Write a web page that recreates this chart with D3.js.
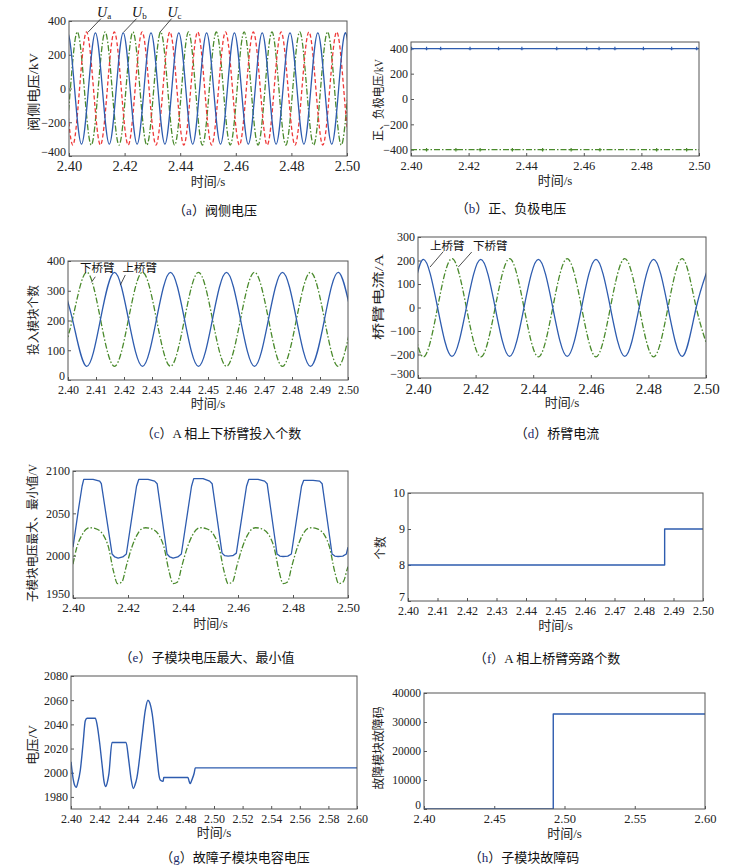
<!DOCTYPE html>
<html><head><meta charset="utf-8">
<script src="https://cdn.jsdelivr.net/npm/d3@7/dist/d3.min.js"></script>
<style>body{margin:0;background:#fff}</style>
</head><body>
<svg id="c" width="753" height="865"></svg>
<script>
// ---------------- DATA ----------------
// (a) valve-side voltages, kV  [time s, value]
const uaData = [[2.3963,335],[2.3988,0],[2.4013,-335],[2.4038,0],[2.4063,335],[2.4088,0],[2.4113,-335],[2.4138,0],[2.4163,335],[2.4188,0],[2.4213,-335],[2.4238,0],[2.4263,335],[2.4288,0],[2.4313,-335],[2.4338,0],[2.4363,335],[2.4388,0],[2.4413,-335],[2.4438,0],[2.4463,335],[2.4488,0],[2.4513,-335],[2.4538,0],[2.4563,335],[2.4588,0],[2.4613,-335],[2.4638,0],[2.4663,335],[2.4688,0],[2.4713,-335],[2.4738,0],[2.4763,335],[2.4788,0],[2.4813,-335],[2.4838,0],[2.4863,335],[2.4888,0],[2.4913,-335],[2.4938,0],[2.4963,335],[2.4988,0],[2.5013,-335],[2.5038,0]];
const ubData = [[2.3970,0],[2.3995,330],[2.4020,0],[2.4045,-330],[2.4070,0],[2.4095,330],[2.4120,0],[2.4145,-330],[2.4170,0],[2.4195,330],[2.4220,0],[2.4245,-330],[2.4270,0],[2.4295,330],[2.4320,0],[2.4345,-330],[2.4370,0],[2.4395,330],[2.4420,0],[2.4445,-330],[2.4470,0],[2.4495,330],[2.4520,0],[2.4545,-330],[2.4570,0],[2.4595,330],[2.4620,0],[2.4645,-330],[2.4670,0],[2.4695,330],[2.4720,0],[2.4745,-330],[2.4770,0],[2.4795,330],[2.4820,0],[2.4845,-330],[2.4870,0],[2.4895,330],[2.4920,0],[2.4945,-330],[2.4970,0],[2.4995,330],[2.5020,0],[2.5045,-330]];
const ucData = [[2.3955,0],[2.3980,-335],[2.4005,0],[2.4030,335],[2.4055,0],[2.4080,-335],[2.4105,0],[2.4130,335],[2.4155,0],[2.4180,-335],[2.4205,0],[2.4230,335],[2.4255,0],[2.4280,-335],[2.4305,0],[2.4330,335],[2.4355,0],[2.4380,-335],[2.4405,0],[2.4430,335],[2.4455,0],[2.4480,-335],[2.4505,0],[2.4530,335],[2.4555,0],[2.4580,-335],[2.4605,0],[2.4630,335],[2.4655,0],[2.4680,-335],[2.4705,0],[2.4730,335],[2.4755,0],[2.4780,-335],[2.4805,0],[2.4830,335],[2.4855,0],[2.4880,-335],[2.4905,0],[2.4930,335],[2.4955,0],[2.4980,-335],[2.5005,0],[2.5030,335]];
const uLabels = ["a","b","c"];

// (b) positive / negative pole voltage, kV
const posPole = [[2.40,398],[2.50,398]];
const negPole = [[2.40,-400],[2.50,-400]];
const posGlitchT = [2.4002,2.4054,2.4103,2.4205,2.4304,2.4385,2.4506,2.4610,2.4653,2.4708,2.4807,2.4905,2.4992];
const negGlitchT = [2.4054,2.4156,2.4240,2.4352,2.4457,2.4556,2.4656,2.4853,2.4957];

// (c) inserted modules, upper / lower arm
const upperCount = [[2.3966,362],[2.4016,204],[2.4066,46],[2.4116,204],[2.4166,362],[2.4216,204],[2.4266,46],[2.4316,204],[2.4366,362],[2.4416,204],[2.4466,46],[2.4516,204],[2.4566,362],[2.4616,204],[2.4666,46],[2.4716,204],[2.4766,362],[2.4816,204],[2.4866,46],[2.4916,204],[2.4966,362],[2.5016,204],[2.5066,46]];
const lowerCount = [[2.3966,46],[2.4016,204],[2.4066,362],[2.4116,204],[2.4166,46],[2.4216,204],[2.4266,362],[2.4316,204],[2.4366,46],[2.4416,204],[2.4466,362],[2.4516,204],[2.4566,46],[2.4616,204],[2.4666,362],[2.4716,204],[2.4766,46],[2.4816,204],[2.4866,362],[2.4916,204],[2.4966,46],[2.5016,204],[2.5066,362]];

// (d) arm currents, A
const upperCurrent = [[2.3918,-208],[2.3972,0],[2.4018,205],[2.4068,0],[2.4118,-208],[2.4168,0],[2.4218,205],[2.4268,0],[2.4318,-208],[2.4368,0],[2.4418,205],[2.4468,0],[2.4518,-208],[2.4568,0],[2.4618,205],[2.4668,0],[2.4718,-208],[2.4768,0],[2.4818,205],[2.4868,0],[2.4918,-208],[2.4966,0],[2.5018,205]];
const lowerCurrent = [[2.3918,208],[2.3970,0],[2.4018,-210],[2.4068,0],[2.4118,208],[2.4168,0],[2.4218,-210],[2.4268,0],[2.4318,208],[2.4368,0],[2.4418,-210],[2.4468,0],[2.4518,208],[2.4568,0],[2.4618,-210],[2.4668,0],[2.4718,208],[2.4768,0],[2.4818,-210],[2.4868,0],[2.4918,208],[2.4966,0],[2.5018,-210]];

// (e) sub-module voltage max / min, V
const smMax = [[2.4000,2010],[2.4020,2055],[2.4033,2082],[2.4039,2090],
 [2.4073,2090],[2.4097,2088],[2.4103,2085],[2.4142,2002],[2.4152,1998.5],[2.4164,1997],[2.4181,1998.5],[2.4194,2002],[2.4231,2082],[2.4239,2090],
 [2.4273,2090],[2.4297,2088],[2.4306,2085],[2.4342,2002],[2.4352,1998.5],[2.4364,1997],[2.4381,1998.5],[2.4394,2002],[2.4431,2082],[2.4439,2091],
 [2.4473,2091],[2.4497,2088],[2.4506,2085],[2.4542,2003],[2.4552,2000],[2.4564,1999.5],[2.4581,2000],[2.4594,2003],[2.4631,2082],[2.4639,2090],
 [2.4673,2090],[2.4697,2088],[2.4706,2085],[2.4742,2002],[2.4752,1999.5],[2.4764,1999],[2.4781,1999.5],[2.4794,2002],[2.4831,2082],[2.4839,2089],
 [2.4873,2089],[2.4897,2088],[2.4906,2085],[2.4942,2002],[2.4952,1999.5],[2.4964,1999],[2.4981,1999.5],[2.4994,2002],[2.5000,2010]];
const smMin = [[2.4000,1990],[2.4014,2010],[2.4032,2024],[2.4051,2032],[2.4062,2033],[2.4082,2032],[2.4111,2024],[2.4129,2010],[2.4147,1982],[2.4162,1967],[2.4178,1969],[2.4194,1988],
 [2.4214,2010],[2.4232,2024],[2.4251,2032],[2.4264,2033],[2.4284,2032],[2.4313,2024],[2.4331,2010],[2.4349,1982],[2.4364,1967],[2.4380,1969],[2.4396,1988],
 [2.4416,2010],[2.4434,2024],[2.4453,2032],[2.4464,2033],[2.4484,2032],[2.4513,2024],[2.4531,2010],[2.4549,1982],[2.4564,1967],[2.4580,1969],[2.4596,1988],
 [2.4616,2010],[2.4634,2024],[2.4653,2032],[2.4664,2033],[2.4684,2032],[2.4713,2024],[2.4731,2010],[2.4749,1982],[2.4764,1967],[2.4780,1969],[2.4796,1988],
 [2.4816,2010],[2.4834,2024],[2.4853,2032],[2.4866,2033],[2.4886,2032],[2.4915,2024],[2.4933,2010],[2.4951,1982],[2.4966,1967],[2.4982,1969],[2.4998,1985],[2.5000,1987]];

// (f) bypassed modules, upper arm phase A
const bypassCount = [[2.40,8],[2.487,9],[2.50,9]];

// (g) faulty sub-module capacitor voltage, V
const faultCapV = [[2.4000,2009],[2.4015,1995],[2.4028,1989],[2.4037,1988],[2.4048,1992],[2.4065,2002],[2.4085,2025],[2.4100,2043],[2.4112,2045],[2.4170,2045],[2.4182,2040],[2.4200,2025],[2.4217,2007],[2.4232,1992],[2.4243,1988.5],[2.4254,1992],[2.4265,1999],[2.4287,2025],[2.4385,2025],[2.4403,2011],[2.4420,1995],[2.4436,1987],[2.4448,1990],[2.4461,1996],[2.4496,2029],[2.4520,2052],[2.4538,2060],[2.4550,2058],[2.4566,2050],[2.4601,2013],[2.4615,1998],[2.4624,1994],[2.4641,1993],[2.4645,1993],[2.4648,1996],[2.4818,1996],[2.4826,1993],[2.4834,1991],[2.4845,1994],[2.4862,2000],[2.4869,2004],[2.6000,2004]];

// (h) fault code
const faultCode = [[2.40,0],[2.492,32768],[2.60,32768]];

// tick values
const xTicks02 = [2.40,2.42,2.44,2.46,2.48,2.50];
const xTicks01 = [2.40,2.41,2.42,2.43,2.44,2.45,2.46,2.47,2.48,2.49,2.50];
const xTicksG = [2.40,2.42,2.44,2.46,2.48,2.50,2.52,2.54,2.56,2.58,2.60];
const xTicksH = [2.40,2.45,2.50,2.55,2.60];
const yTicksA = [-400,-200,0,200,400];
const yTicksC = [0,100,200,300,400];
const yTicksD = [-300,-200,-100,0,100,200,300];
const yTicksE = [1950,2000,2050,2100];
const yTicksF = [7,8,9,10];
const yTicksG = [1980,2000,2020,2040,2060,2080];
const yTicksH = [0,10000,20000,30000,40000];

// texts
const xTitle = "时间/s";
const yTitles = {a:"阀侧电压/kV", b:"正、负极电压/kV", c:"投入模块个数", d:"桥臂电流/A", e:"子模块电压最大、最小值/V", f:"个数", g:"电压/V", h:"故障模块故障码"};
const captions = {a:["a","阀侧电压"], b:["b","正、负极电压"], c:["c","A 相上下桥臂投入个数"], d:["d","桥臂电流"], e:["e","子模块电压最大、最小值"], f:["f","A 相上桥臂旁路个数"], g:["g","故障子模块电容电压"], h:["h","子模块故障码"]};
const armNames = ["上桥臂","下桥臂"];

// ---------------- DRAW ----------------
const BLUE = "#2e5caf", GREEN = "#4a8a2c", RED = "#ee3838";
const DASH_RED = "4,2.5", DASH_GREEN = "6,2,1.5,2";
const SERIF = '"Liberation Serif","Times New Roman","Noto Sans CJK SC",serif';
const CJK = '"Liberation Serif","Noto Sans CJK SC",serif';
const svg = d3.select("#c");
const defs = svg.append("defs");

function addPanel(p){
  const x = d3.scaleLinear().domain(p.xd).range([p.x0,p.x1]);
  const y = d3.scaleLinear().domain(p.yd).range([p.y1,p.y0]);
  const g = svg.append("g");
  defs.append("clipPath").attr("id","clip-"+p.id).append("rect")
    .attr("x",p.x0).attr("y",p.y0).attr("width",p.x1-p.x0).attr("height",p.y1-p.y0);
  const xa = g.append("g").attr("transform",`translate(0,${p.y1})`)
    .call(d3.axisBottom(x).tickValues(p.xt).tickFormat(d3.format(".2f")).tickSizeInner(-3).tickSizeOuter(0).tickPadding(p.xpad||5));
  xa.attr("font-family",SERIF).attr("font-size",p.xfs||12);
  xa.select(".domain").remove();
  xa.selectAll("line").attr("stroke","#555");
  xa.selectAll("text").attr("fill","#222");
  const ya = g.append("g").attr("transform",`translate(${p.x0},0)`)
    .call(d3.axisLeft(y).tickValues(p.yt).tickFormat(d3.format("d")).tickSizeInner(-3).tickSizeOuter(0).tickPadding(3));
  ya.attr("font-family",SERIF).attr("font-size",p.yfs||12);
  ya.select(".domain").remove();
  ya.selectAll("line").attr("stroke","#555");
  ya.selectAll("text").attr("fill","#222");
  // lift the lowest y label a little so it clears the first x label
  ya.selectAll(".tick").filter(d=>d===p.yd[0]).select("text").attr("dy","-0.05em");
  const plot = g.append("g").attr("clip-path",`url(#clip-${p.id})`);
  g.append("rect").attr("x",p.x0).attr("y",p.y0).attr("width",p.x1-p.x0).attr("height",p.y1-p.y0)
    .attr("fill","none").attr("stroke","#555").attr("stroke-width",1);
  // axis titles
  g.append("text").attr("x",(p.x0+p.x1)/2).attr("y",p.xty).attr("text-anchor","middle")
    .attr("dominant-baseline","central").attr("font-family",CJK).attr("font-size",13).attr("fill","#222").text(xTitle);
  g.append("text").attr("transform",`translate(${p.ytx},${p.yty}) rotate(-90)`).attr("text-anchor","middle")
    .attr("dominant-baseline","central").attr("font-family",CJK).attr("font-size",p.ytfs||12.5).attr("fill","#222")
    .attr("textLength",p.ytlen).attr("lengthAdjust","spacingAndGlyphs").text(yTitles[p.id]);
  // caption
  const cap = captions[p.id];
  const ct = g.append("text").attr("x",p.cx).attr("y",p.cy).attr("text-anchor","middle")
    .attr("dominant-baseline","central").attr("font-family",CJK).attr("font-size",13).attr("fill","#111");
  ct.append("tspan").text("（");
  ct.append("tspan").attr("font-family",SERIF).attr("fill","#1a2a6a").text(cap[0]);
  ct.append("tspan").text("）"+cap[1]);
  return {x,y,g,plot};
}
function drawLine(P,data,color,dash,curve,w){
  P.plot.append("path").datum(data)
    .attr("d",d3.line().x(d=>P.x(d[0])).y(d=>P.y(d[1])).curve(curve||d3.curveLinear))
    .attr("fill","none").attr("stroke",color).attr("stroke-width",w||1.3)
    .attr("stroke-dasharray",dash||null).attr("stroke-linejoin","round");
}
function leader(P,t1,v1,t2,v2){
  P.g.append("line").attr("x1",P.x(t1)).attr("y1",P.y(v1)).attr("x2",P.x(t2)).attr("y2",P.y(v2))
    .attr("stroke","#222").attr("stroke-width",0.8);
}
function label(P,t,v,txt,fs){
  P.g.append("text").attr("x",P.x(t)).attr("y",P.y(v)).attr("font-family",CJK).attr("font-size",fs||12).attr("fill","#111").text(txt);
}

// (a)
const A = addPanel({id:"a",x0:69,x1:347,y0:21,y1:156,xd:[2.40,2.50],yd:[-400,400],xt:xTicks02,yt:yTicksA,xfs:14.5,xty:181,ytx:33,yty:92,ytlen:78,ytfs:13,cx:215,cy:210});
drawLine(A,ucData,GREEN,DASH_GREEN,d3.curveNatural);
drawLine(A,uaData,RED,DASH_RED,d3.curveNatural);
drawLine(A,ubData,BLUE,null,d3.curveNatural);
[[2.4101,2.4115,2.4068],[2.4227,2.4243,2.4196],[2.4354,2.4369,2.4327]].forEach((d,i)=>{
  const t = A.g.append("text").attr("x",A.x(d[0])).attr("y",A.y(424)).attr("font-family",SERIF).attr("fill","#111");
  t.append("tspan").attr("font-style","italic").attr("font-size",14).text("U");
  t.append("tspan").attr("font-size",9).attr("dy",2).text(uLabels[i]);
  leader(A,d[1],414,d[2],333);
});

// (b)
const B = addPanel({id:"b",x0:411,x1:699,y0:42,y1:156,xd:[2.40,2.50],yd:[-450,450],xt:xTicks02,yt:yTicksA,xfs:12.5,xty:180,ytx:379,yty:100,ytlen:82,ytfs:12,cx:511,cy:208});
drawLine(B,negPole,GREEN,DASH_GREEN);
drawLine(B,posPole,BLUE,null);
function glitch(P,ts,v,color){
  ts.forEach(t=>{
    P.plot.append("path").attr("d",d3.symbol(d3.symbolCross,7)())
      .attr("transform",`translate(${P.x(t)},${P.y(v)})`).attr("fill",color);
  });
}
glitch(B,posGlitchT,398,BLUE);
glitch(B,negGlitchT,-400,GREEN);

// (c)
const C = addPanel({id:"c",x0:68,x1:348,y0:261,y1:380,xd:[2.40,2.50],yd:[0,400],xt:xTicks01,yt:yTicksC,xfs:12,xty:403,ytx:34,yty:320,ytlen:70,ytfs:12,cx:221,cy:433});
drawLine(C,lowerCount,GREEN,DASH_GREEN,d3.curveNatural);
drawLine(C,upperCount,BLUE,null,d3.curveNatural);
label(C,2.4043,362,armNames[1],11.5);
label(C,2.4195,362,armNames[0],11.5);
leader(C,2.40975,347,2.40833,328);
leader(C,2.42046,353,2.41868,319);

// (d)
const D = addPanel({id:"d",x0:418,x1:706,y0:237,y1:378,xd:[2.40,2.50],yd:[-300,300],xt:xTicks02,yt:yTicksD,xfs:15,xty:402,ytx:379,yty:297,ytlen:86,ytfs:12.5,cx:557,cy:433});
drawLine(D,lowerCurrent,GREEN,DASH_GREEN,d3.curveNatural);
drawLine(D,upperCurrent,BLUE,null,d3.curveNatural);
label(D,2.40417,243,armNames[0],11.5);
label(D,2.41910,243,armNames[1],11.5);
leader(D,2.40878,238,2.40417,172);
leader(D,2.41865,236,2.41399,172);

// (e)
const E = addPanel({id:"e",x0:73,x1:348,y0:471,y1:598,xd:[2.40,2.50],yd:[1950,2100],xt:xTicks02,yt:yTicksE,xfs:13,xty:623,ytx:33,yty:533,ytlen:138,ytfs:12.5,cx:207,cy:657});
drawLine(E,smMin,GREEN,DASH_GREEN,d3.curveMonotoneX);
drawLine(E,smMax,BLUE,null,d3.curveLinear);

// (f)
const F = addPanel({id:"f",x0:408,x1:703,y0:493,y1:601,xd:[2.40,2.50],yd:[7,10],xt:xTicks01,yt:yTicksF,xfs:12,xty:625,ytx:381,yty:548,ytlen:23,ytfs:12,cx:547,cy:658});
drawLine(F,bypassCount,BLUE,null,d3.curveStepAfter,1.4);

// (g)
const G = addPanel({id:"g",x0:71,x1:357,y0:676,y1:809,xd:[2.40,2.60],yd:[1970,2080],xt:xTicksG,yt:yTicksG,xfs:12,xty:832,ytx:32,yty:745,ytlen:40,ytfs:13,cx:235,cy:857});
drawLine(G,faultCapV,BLUE,null,d3.curveMonotoneX,1.4);

// (h)
const H = addPanel({id:"h",x0:424,x1:705,y0:693,y1:809,xd:[2.40,2.60],yd:[0,40000],xt:xTicksH,yt:yTicksH,xfs:12.5,yfs:11.5,xty:833,ytx:379,yty:748,ytlen:83,ytfs:12,cx:524,cy:857});
drawLine(H,faultCode,BLUE,null,d3.curveStepAfter,1.4);
</script>
</body></html>
